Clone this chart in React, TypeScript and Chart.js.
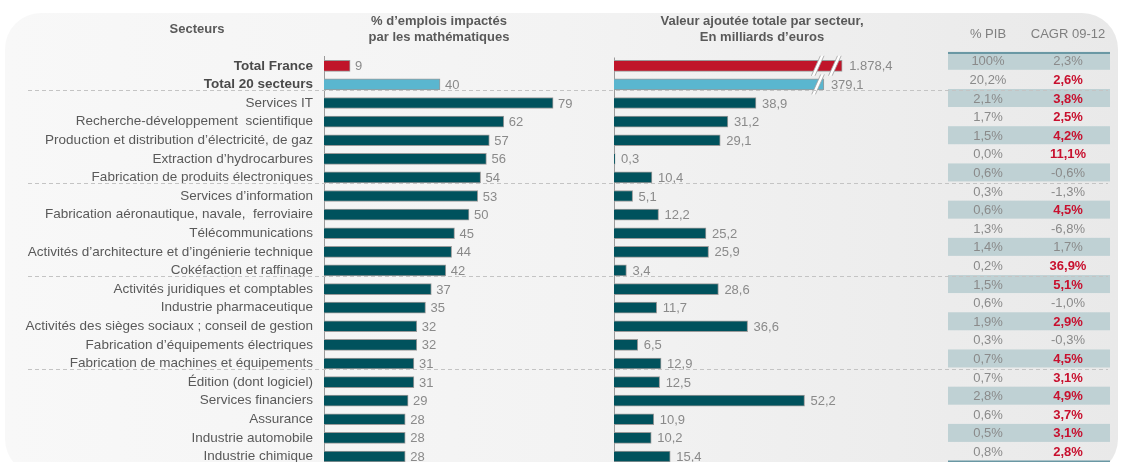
import React, { useEffect, useRef } from "react";
import { Chart, registerables } from "chart.js";

Chart.register(...registerables);

// ---------------- DATA ----------------
const sectors = [
  "Total France",
  "Total 20 secteurs",
  "Services IT",
  "Recherche-développement  scientifique",
  "Production et distribution d’électricité, de gaz",
  "Extraction d’hydrocarbures",
  "Fabrication de produits électroniques",
  "Services d’information",
  "Fabrication aéronautique, navale,  ferroviaire",
  "Télécommunications",
  "Activités d’architecture et d’ingénierie technique",
  "Cokéfaction et raffinage",
  "Activités juridiques et comptables",
  "Industrie pharmaceutique",
  "Activités des sièges sociaux ; conseil de gestion",
  "Fabrication d’équipements électriques",
  "Fabrication de machines et équipements",
  "Édition (dont logiciel)",
  "Services financiers",
  "Assurance",
  "Industrie automobile",
  "Industrie chimique",
];

// % d'emplois impactés par les mathématiques
const emploisPct = [9, 40, 79, 62, 57, 56, 54, 53, 50, 45, 44, 42, 37, 35, 32, 32, 31, 31, 29, 28, 28, 28];

// Valeur ajoutée totale par secteur (milliards d'euros)
const valeurAjoutee = [
  1878.4, 379.1, 38.9, 31.2, 29.1, 0.3, 10.4, 5.1, 12.2, 25.2, 25.9, 3.4, 28.6, 11.7, 36.6, 6.5, 12.9, 12.5,
  52.2, 10.9, 10.2, 15.4,
];

// % PIB
const pibShare = [100, 20.2, 2.1, 1.7, 1.5, 0.0, 0.6, 0.3, 0.6, 1.3, 1.4, 0.2, 1.5, 0.6, 1.9, 0.3, 0.7, 0.7, 2.8, 0.6, 0.5, 0.8];

// CAGR 09-12 (%)
const cagr = [2.3, 2.6, 3.8, 2.5, 4.2, 11.1, -0.6, -1.3, 4.5, -6.8, 1.7, 36.9, 5.1, -1.0, 2.9, -0.3, 4.5, 3.1, 4.9, 3.7, 3.1, 2.8];

// Bars drawn with a broken axis: shown length (in axis units) and where the break marks sit
const brokenBars: Record<number, { shownAs: number; breaks: number[] }> = {
  0: { shownAs: 62.5, breaks: [55.8, 60.5] },
  1: { shownAs: 57.5, breaks: [55.9] },
};

const separatorAfterRows = [1, 6, 11, 16, 21];

// ---------------- STYLE / LAYOUT ----------------
const W = 1125;
const H = 470;
const LEFT_AXIS_X = 324;
const RIGHT_AXIS_X = 614;
const AREA_RIGHT = 1110;
const AREA_TOP = 56.5;
const AREA_BOTTOM = 465.8;
const LEFT_PX_PER_UNIT = 2.9;
const RIGHT_PX_PER_UNIT = 3.65;
const PIB_X = 988;
const CAGR_X = 1068;
const TABLE_LEFT = 948;
const TABLE_RIGHT = 1110;

const FONT = "'Liberation Sans', Arial, Helvetica, sans-serif";
const RED = "#c0152a";
const BLUE = "#5ab6cf";
const TEAL = "#00525d";
const GREY_TEXT = "#8a8a8a";
const LABEL_TEXT = "#595959";
const TABLE_BAND = "#bfd1d4";
const TABLE_LINE = "#6a98a4";

const barColor = (i: number) => (i === 0 ? RED : i === 1 ? BLUE : TEAL);

const fmtFr = (v: number, d: number) => {
  const [intPart, dec] = Math.abs(v).toFixed(d).split(".");
  const intStr = intPart.replace(/\B(?=(\d{3})+(?!\d))/g, ".");
  return (v < 0 ? "-" : "") + intStr + (dec ? "," + dec : "");
};

const fmtPib = (v: number) => (v === 100 ? "100%" : fmtFr(v, 1) + "%");

const overlayPlugin = {
  id: "overlay",
  beforeDatasetsDraw(chart: any) {
    const { ctx, chartArea } = chart;
    const y = chart.scales.y;
    const x2 = chart.scales.x2;
    ctx.save();
    // table bands
    ctx.fillStyle = TABLE_BAND;
    sectors.forEach((_, i) => {
      if (i % 2 !== 0) return;
      const cy = y.getPixelForValue(i) - 5;
      ctx.fillRect(TABLE_LEFT, cy - 9, TABLE_RIGHT - TABLE_LEFT, 18);
    });
    // table top and bottom rules
    ctx.fillStyle = TABLE_LINE;
    ctx.fillRect(TABLE_LEFT, 52, TABLE_RIGHT - TABLE_LEFT, 2);
    const lastCy = y.getPixelForValue(sectors.length - 1) - 5;
    ctx.fillRect(TABLE_LEFT, lastCy + 9, TABLE_RIGHT - TABLE_LEFT, 2);
    // right axis line
    const zx = Math.round(x2.getPixelForValue(0)) + 0.5;
    ctx.strokeStyle = "#9a9a9a";
    ctx.lineWidth = 1;
    ctx.beginPath();
    ctx.moveTo(zx, chartArea.top + 1);
    ctx.lineTo(zx, chartArea.bottom);
    ctx.stroke();
    ctx.restore();
  },
  afterDatasetsDraw(chart: any) {
    const { ctx } = chart;
    const y = chart.scales.y;
    const x = chart.scales.x;
    const x2 = chart.scales.x2;
    ctx.save();

    // break marks on broken bars
    Object.keys(brokenBars).forEach((k) => {
      const i = Number(k);
      const cy = y.getPixelForValue(i);
      brokenBars[i].breaks.forEach((b) => {
        const cx = x2.getPixelForValue(b);
        const top = cy - 10;
        const bot = cy + 10;
        const slant = 4.5;
        const hw = 1.8;
        ctx.fillStyle = "#ffffff";
        ctx.beginPath();
        ctx.moveTo(cx - slant - hw, bot);
        ctx.lineTo(cx + slant - hw, top);
        ctx.lineTo(cx + slant + hw, top);
        ctx.lineTo(cx - slant + hw, bot);
        ctx.closePath();
        ctx.fill();
        ctx.strokeStyle = "#a0a0a0";
        ctx.lineWidth = 0.8;
        ctx.beginPath();
        ctx.moveTo(cx - slant - hw, bot);
        ctx.lineTo(cx + slant - hw, top);
        ctx.moveTo(cx - slant + hw, bot);
        ctx.lineTo(cx + slant + hw, top);
        ctx.stroke();
      });
    });

    // value labels
    ctx.font = `13px ${FONT}`;
    ctx.fillStyle = GREY_TEXT;
    ctx.textAlign = "left";
    ctx.textBaseline = "middle";
    emploisPct.forEach((v, i) => {
      const cy = y.getPixelForValue(i) + 1;
      ctx.fillText(String(v), x.getPixelForValue(v) + 5, cy);
    });
    valeurAjoutee.forEach((v, i) => {
      const cy = y.getPixelForValue(i) + 1;
      const shown = brokenBars[i] ? brokenBars[i].shownAs : v;
      const off = brokenBars[i] ? 7 : 6;
      ctx.fillText(fmtFr(v, 1), x2.getPixelForValue(shown) + off, cy);
    });

    // table values
    ctx.textAlign = "center";
    sectors.forEach((_, i) => {
      const cy = y.getPixelForValue(i) - 4;
      ctx.font = `13px ${FONT}`;
      ctx.fillStyle = GREY_TEXT;
      ctx.fillText(fmtPib(pibShare[i]), PIB_X, cy);
      const highlight = i > 0 && cagr[i] > cagr[0];
      ctx.font = `${highlight ? "bold " : ""}13px ${FONT}`;
      ctx.fillStyle = highlight ? "#c8102e" : GREY_TEXT;
      ctx.fillText(fmtFr(cagr[i], 1) + "%", CAGR_X, cy);
    });

    // headers
    ctx.fillStyle = LABEL_TEXT;
    ctx.font = `bold 13px ${FONT}`;
    ctx.fillText("Secteurs", 197, 29);
    ctx.fillText("% d’emplois impactés", 439, 21);
    ctx.fillText("par les mathématiques", 439, 37);
    ctx.fillText("Valeur ajoutée totale par secteur,", 762, 21);
    ctx.fillText("En milliards d’euros", 762, 37);
    ctx.font = `13px ${FONT}`;
    ctx.fillStyle = "#7f7f7f";
    ctx.fillText("% PIB", PIB_X, 34);
    ctx.fillText("CAGR 09-12", CAGR_X, 34);

    // dashed separators
    ctx.strokeStyle = "#c4c4c4";
    ctx.lineWidth = 1;
    ctx.setLineDash([4, 3]);
    separatorAfterRows.forEach((r) => {
      const yy = Math.round(y.getPixelForValue(r) + 5.5) + 0.5;
      ctx.beginPath();
      ctx.moveTo(28, yy);
      ctx.lineTo(1108, yy);
      ctx.stroke();
    });
    ctx.restore();
  },
};

export default function App() {
  const canvasRef = useRef<HTMLCanvasElement | null>(null);

  useEffect(() => {
    if (!canvasRef.current) return;
    const leftMax = (AREA_RIGHT - LEFT_AXIS_X) / LEFT_PX_PER_UNIT;
    const rightMin = -(RIGHT_AXIS_X - LEFT_AXIS_X) / RIGHT_PX_PER_UNIT;
    const rightMax = rightMin + (AREA_RIGHT - LEFT_AXIS_X) / RIGHT_PX_PER_UNIT;
    const shownValues = valeurAjoutee.map((v, i) => (brokenBars[i] ? brokenBars[i].shownAs : v));

    const chart = new Chart(canvasRef.current, {
      type: "bar",
      data: {
        labels: sectors,
        datasets: [
          {
            label: "% d’emplois impactés par les mathématiques",
            data: emploisPct,
            xAxisID: "x",
            yAxisID: "y",
            backgroundColor: sectors.map((_, i) => barColor(i)),
            borderColor: "#9a9a9a",
            borderWidth: 1,
            barThickness: 11,
            grouped: false,
          } as any,
          {
            label: "Valeur ajoutée totale par secteur",
            data: shownValues,
            xAxisID: "x2",
            yAxisID: "y",
            backgroundColor: sectors.map((_, i) => barColor(i)),
            borderColor: "#9a9a9a",
            borderWidth: 1,
            barThickness: 11,
            grouped: false,
          } as any,
        ],
      },
      options: {
        indexAxis: "y",
        responsive: false,
        animation: false,
        devicePixelRatio: 1,
        layout: {
          padding: { left: 0, top: AREA_TOP, right: W - AREA_RIGHT, bottom: H - AREA_BOTTOM },
        },
        plugins: {
          legend: { display: false },
          tooltip: { enabled: false },
        },
        scales: {
          y: {
            type: "category",
            position: "left",
            offset: true,
            grid: { display: false, drawTicks: false },
            border: { display: true, color: "#9a9a9a", width: 1 },
            afterFit: (scale: any) => {
              scale.width = LEFT_AXIS_X;
              scale.paddingTop = 0;
              scale.paddingBottom = 0;
            },
            ticks: {
              autoSkip: false,
              padding: 11,
              color: (c: any) => (c.index < 2 ? "#4a4a4a" : LABEL_TEXT),
              font: (c: any) => ({
                family: FONT,
                size: 13.5,
                weight: c.index < 2 ? "bold" : "normal",
              }),
            },
          },
          x: {
            type: "linear",
            display: false,
            min: 0,
            max: leftMax,
          },
          x2: {
            type: "linear",
            display: false,
            min: rightMin,
            max: rightMax,
          },
        },
      } as any,
      plugins: [overlayPlugin],
    });
    return () => chart.destroy();
  }, []);

  return (
    <div
      style={{
        position: "fixed",
        left: 0,
        top: 0,
        width: W,
        height: 462,
        overflow: "hidden",
        background: "#ffffff",
      }}
    >
      <div
        style={{
          position: "absolute",
          left: 5,
          top: 13,
          width: 1113,
          height: 462,
          borderRadius: 36,
          background: "linear-gradient(90deg, #f8f8f8 0%, #f3f3f3 50%, #e9e9e9 100%)",
        }}
      />
      <canvas
        ref={canvasRef}
        width={W}
        height={H}
        style={{ position: "absolute", left: 0, top: 0, width: W, height: H }}
      />
    </div>
  );
}
